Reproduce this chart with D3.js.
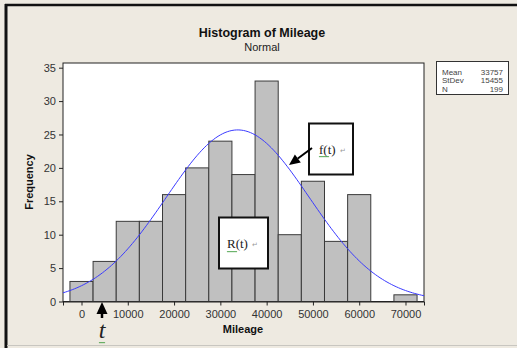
<!DOCTYPE html>
<html>
  <head>
    <style>
      body { margin: 0; background: #eeeae1; font-family: "Liberation Sans", Arial, sans-serif; }
      .tick text { font-size: 11px; fill: #333; font-family: "Liberation Sans", Arial, sans-serif; }
      .bar { fill: #c0c0c0; stroke: #3a3a3a; stroke-width: 1; }
      .note { font-family: "Liberation Serif", "DejaVu Serif", serif; fill: #222; }
    </style>
  </head>
  <body>
    <script src="https://d3js.org/d3.v7.min.js"></script>
    <script>
      // bin centres (width 5000) and counts
      const binCenters = [0, 5000, 10000, 15000, 20000, 25000, 30000, 35000, 40000, 45000, 50000, 55000, 60000, 65000, 70000];
      const counts = [3, 6, 12, 12, 16, 20, 24, 19, 33, 10, 18, 9, 16, 0, 1];
      const xTicks = [0, 10000, 20000, 30000, 40000, 50000, 60000, 70000];
      const yTicks = [0, 5, 10, 15, 20, 25, 30, 35];
      const statLabels = ['Mean', 'StDev', 'N'];
      const statValues = ['33757', '15455', '199'];
      const mean = 33757, sd = 15455, n = 199, binWidth = 5000;

      const W = 517, H = 348;
      const svg = d3.select('body').append('svg')
        .attr('width', W).attr('height', H);

      // window frame
      svg.append('rect').attr('x', 0).attr('y', 0).attr('width', W).attr('height', H).attr('fill', '#eeeae1');
      svg.append('line').attr('x1', 5).attr('x2', W).attr('y1', 5).attr('y2', 5).attr('stroke', '#111').attr('stroke-width', 2.5);
      svg.append('line').attr('x1', 6).attr('x2', 6).attr('y1', 4).attr('y2', H).attr('stroke', '#111').attr('stroke-width', 3);
      svg.append('line').attr('x1', 7).attr('x2', W).attr('y1', 345.5).attr('y2', 345.5).attr('stroke', '#c8c6c0').attr('stroke-width', 1);

      const x = d3.scaleLinear().domain([-4000, 74000]).range([63, 424]);
      const y = d3.scaleLinear().domain([0, 35.7]).range([301.5, 63]);

      // plot area
      svg.append('rect')
        .attr('x', 63).attr('y', 63).attr('width', 361).attr('height', 238.5)
        .attr('fill', '#fff').attr('stroke', '#222').attr('stroke-width', 1);

      const data = binCenters.map((c, i) => ({ c, n: counts[i] }));
      svg.append('g').selectAll('rect')
        .data(data.filter(d => d.n > 0))
        .join('rect')
        .attr('class', 'bar')
        .attr('x', d => x(d.c - binWidth / 2))
        .attr('width', d => x(d.c + binWidth / 2) - x(d.c - binWidth / 2))
        .attr('y', d => y(d.n))
        .attr('height', d => y(0) - y(d.n));

      // fitted normal curve from the chart's own Mean / StDev / N
      const k = n * binWidth / (sd * Math.sqrt(2 * Math.PI));
      const curve = d3.range(-4000, 74001, 500).map(v => [v, k * Math.exp(-0.5 * ((v - mean) / sd) ** 2)]);
      svg.append('path')
        .datum(curve)
        .attr('fill', 'none').attr('stroke', '#3b3bff').attr('stroke-width', 1)
        .attr('d', d3.line().x(d => x(d[0])).y(d => y(d[1])));

      // axes
      svg.append('g')
        .attr('transform', 'translate(0,301.5)')
        .call(d3.axisBottom(x).tickValues(xTicks).tickSize(4).tickPadding(5).tickFormat(d3.format('d')))
        .call(g => g.select('.domain').attr('stroke', '#222'))
        .call(g => g.selectAll('.tick line').attr('stroke', '#222'));
      svg.append('g')
        .attr('transform', 'translate(63,0)')
        .call(d3.axisLeft(y).tickValues(yTicks).tickSize(4).tickPadding(3))
        .call(g => g.select('.domain').remove())
        .call(g => g.selectAll('.tick line').attr('stroke', '#222'));

      // titles
      svg.append('text').attr('x', 262).attr('y', 37).attr('text-anchor', 'middle')
        .attr('font-size', 12.5).attr('font-weight', 'bold').attr('fill', '#111').text('Histogram of Mileage');
      svg.append('text').attr('x', 262).attr('y', 51).attr('text-anchor', 'middle')
        .attr('font-size', 11).attr('fill', '#222').text('Normal');
      svg.append('text').attr('x', 243).attr('y', 333).attr('text-anchor', 'middle')
        .attr('font-size', 11).attr('font-weight', 'bold').attr('fill', '#111').text('Mileage');
      svg.append('text').attr('transform', 'translate(33,182) rotate(-90)').attr('text-anchor', 'middle')
        .attr('font-size', 11).attr('font-weight', 'bold').attr('fill', '#111').text('Frequency');

      // stats legend
      const leg = svg.append('g');
      leg.append('rect').attr('x', 436.5).attr('y', 61.5).attr('width', 72).attr('height', 33)
        .attr('fill', '#fff').attr('stroke', '#333');
      statLabels.forEach((s, i) => {
        leg.append('text').attr('x', 442).attr('y', 74.5 + i * 8.5).attr('font-size', 8).attr('fill', '#444').text(s);
        leg.append('text').attr('x', 503).attr('y', 74.5 + i * 8.5).attr('font-size', 8).attr('fill', '#444')
          .attr('text-anchor', 'end').text(statValues[i]);
      });

      // annotations
      function arrow(x1, y1, x2, y2, sw, len, half) {
        const dx = x2 - x1, dy = y2 - y1, L = Math.hypot(dx, dy);
        const ux = dx / L, uy = dy / L;
        const bx = x2 - ux * len, by = y2 - uy * len;
        svg.append('line').attr('x1', x1).attr('y1', y1).attr('x2', bx).attr('y2', by)
          .attr('stroke', '#000').attr('stroke-width', sw);
        svg.append('path')
          .attr('d', `M${x2},${y2} L${bx - uy * half},${by + ux * half} L${bx + uy * half},${by - ux * half} Z`)
          .attr('fill', '#000');
      }

      function squiggle(x0, yy, w) {
        let p = `M${x0},${yy}`;
        for (let i = 0; i < w; i += 2) p += ` l1,1.2 l1,-1.2`;
        svg.append('path').attr('d', p).attr('fill', 'none').attr('stroke', '#3c9a3c').attr('stroke-width', 0.8);
      }

      svg.append('rect').attr('x', 219).attr('y', 217.5).attr('width', 49).attr('height', 51)
        .attr('fill', '#fff').attr('stroke', '#111').attr('stroke-width', 2);
      svg.append('text').attr('class', 'note').attr('x', 227).attr('y', 248).attr('font-size', 13).text('R(t)');
      svg.append('text').attr('x', 252).attr('y', 247).attr('font-size', 7).attr('fill', '#999').text('↵');
      squiggle(227, 251, 10);

      svg.append('rect').attr('x', 309).attr('y', 123.5).attr('width', 44).attr('height', 51)
        .attr('fill', '#fff').attr('stroke', '#111').attr('stroke-width', 2);
      svg.append('text').attr('class', 'note').attr('x', 319).attr('y', 154).attr('font-size', 13).text('f(t)');
      svg.append('text').attr('x', 340).attr('y', 153).attr('font-size', 7).attr('fill', '#999').text('↵');
      squiggle(319, 156, 10);
      arrow(312, 148, 289, 165, 2, 11, 5);

      arrow(102, 318, 102, 302, 2.5, 12, 5.5);
      svg.append('text').attr('class', 'note').attr('x', 102).attr('y', 338).attr('text-anchor', 'middle')
        .attr('font-size', 24).attr('font-style', 'italic').text('t');
      squiggle(99, 342, 6);
    </script>
  </body>
</html>
